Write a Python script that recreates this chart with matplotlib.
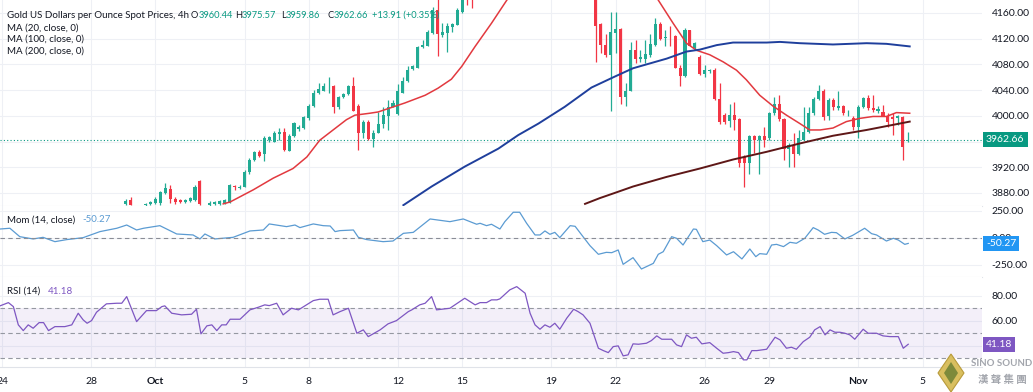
import numpy as np
import matplotlib.pyplot as plt
import matplotlib.transforms as mtransforms
from matplotlib.patches import Polygon

plt.rcParams['font.family'] = ['Lato', 'DejaVu Sans']

# 4h candles, bar numbers counted from Sep 24 00:00; None = candle not visible in the pane
first_bar = 25
opens = [3863, 3869, None, None, 3861, 3863, 3864, 3864, 3880, 3886, 3870, 3869, 3866, 3868, 3869, 3898, None,
         3862, 3863, 3863, 3865, 3865, 3891, 3888, 3890, 3912, 3932, 3943, 3941, 3962, 3960, 3972, 3975, 3946,
         3969, 3979, 3981, 3996, 4015, 4036, 4039, 4046, 4046, 4013, 4029, 4034, 4046, 4016, 3974, 3991, 3964,
         3974, 3987, 3999, 4014, 4003, 4036, 4054, 4073, 4075, 4107, 4109, 4129, 4165, 4126, 4129, 4138, 4142,
         4162, 4200, 4195] + [None] * 24 + [
         4200, 4143, 4110, 4095, 4129, 4135, 4030, 4039, 4102, 4088, 4089, 4095, 4110, 4143, 4121, 4123, 4124,
         4075, 4062, 4133, 4105, 4092, 4065, 4069, 4071, 4026, 4001, 3992, 4001, 3995, 3936, 3926, 3968, 3962,
         3968, 3965, 4004, 4018, 3995, 3948, 3955, 3941, 3963, 3975, 4004, 4026, 4039, 4000, 4025, 4012, 4015,
         4004, 3996, 3983, 4013, 4027, 4012, 4008, 4006, 4000, 3998, 3996, 3998, 3960.44]
highs = [3870, 3873, None, None, 3864, 3868, 3874, 3883, 3896, 3892, 3874, 3871, 3871, 3874, 3893, 3900, None,
         3867, 3868, 3869, 3870, 3894, 3892, 3892, 3916, 3934, 3946, 3947, 3968, 3969, 3977, 3981, 3981, 3971,
         3991, 3986, 4000, 4018, 4040, 4051, 4051, 4060, 4048, 4031, 4036, 4048, 4060, 4018, 3993, 3993, 3978,
         4006, 4014, 4025, 4025, 4049, 4061, 4077, 4079, 4109, 4118, 4134, 4170, 4185, 4145, 4144, 4145, 4167,
         4190, 4212, 4205] + [None] * 24 + [
         4215, 4145, 4128, 4162, 4162, 4136, 4051, 4115, 4118, 4102, 4118, 4128, 4152, 4146, 4134, 4139, 4126,
         4079, 4136, 4134, 4115, 4095, 4079, 4073, 4074, 4051, 4004, 4019, 4022, 3996, 3939, 3970, 3970, 3970,
         3983, 4006, 4030, 4032, 3996, 3957, 3973, 3978, 4014, 4014, 4030, 4048, 4041, 4027, 4027, 4038, 4017,
         4009, 3999, 4017, 4030, 4032, 4032, 4015, 4017, 4004, 4004, 4001, 3999, 3975.57]
lows = [3861, 3861, None, None, 3860, 3862, 3863, 3862, 3879, 3864, 3863, 3864, 3864, 3866, 3867, 3861, None,
        3860, 3862, 3861, 3863, 3864, 3885, 3886, 3889, 3910, 3930, 3936, 3930, 3960, 3959, 3962, 3946, 3945,
        3967, 3977, 3979, 3994, 4014, 4034, 4038, 4035, 4005, 4011, 4027, 4032, 4007, 3947, 3965, 3962, 3952,
        3973, 3981, 3978, 4013, 4001, 4035, 4053, 4072, 4074, 4106, 4108, 4128, 4093, 4123, 4100, 4131, 4141,
        4160, 4172, 4167] + [None] * 24 + [
        4084, 4097, 4092, 4008, 4097, 4019, 4015, 4038, 4082, 4084, 4082, 4092, 4108, 4118, 4108, 4108, 4074,
        4046, 4061, 4108, 4102, 4063, 4061, 4067, 4025, 3988, 3988, 3983, 3978, 3921, 3890, 3910, 3942, 3910,
        3952, 3962, 4001, 3992, 3931, 3921, 3921, 3939, 3962, 3973, 4001, 4025, 3993, 3993, 4009, 4009, 4001,
        4000, 3978, 3965, 4012, 4009, 4006, 4004, 3999, 3983, 3970, 3986, 3932, 3959.86]
closes = [3867, 3862, None, None, 3863, 3866, 3870, 3881, 3887, 3870, 3866, 3866, 3869, 3872, 3890, 3863, None,
          3865, 3866, 3867, 3869, 3893, 3889, 3890, 3912, 3931, 3944, 3938, 3965, 3967, 3973, 3975, 3947, 3969,
          3989, 3983, 3998, 4016, 4035, 4041, 4046, 4047, 4013, 4029, 4034, 4046, 4008, 3974, 3991, 3964, 3974,
          3988, 4001, 4014, 4020, 4038, 4054, 4072, 4077, 4107, 4110, 4130, 4165, 4128, 4131, 4139, 4143, 4164,
          4185, 4190, 4186] + [None] * 24 + [
          4140, 4110, 4095, 4130, 4135, 4030, 4039, 4103, 4088, 4092, 4096, 4112, 4143, 4119, 4123, 4122, 4075,
          4062, 4133, 4109, 4114, 4065, 4072, 4071, 4026, 3991, 3991, 4001, 3993, 3926, 3926, 3968, 3962, 3968,
          3962, 4004, 4018, 3995, 3948, 3955, 3941, 3965, 3975, 4004, 4026, 4039, 3998, 4025, 4013, 4015, 4004,
          4004, 3983, 4014, 4027, 4012, 4009, 4010, 4000, 3991, 3995, 3999, 3951, 3962.66]

# moving averages (bar, price); None breaks the line where it leaves the pane
ma20_bars = [44.7, 46.1, 50.8, 54.8, 58.8, 61.6, 64.2, 66.9, 69.6, 71.3, 74.3, 76.0, 78.7, 81.4, 85.5, 88.1,
             90.8, 92.9, 95.6, 98.9, 102.0, 104.0, 120.0,
             132.6, 135.6, 138.3, 140.3, 143.0, 145.7, 148.4, 150.4, 153.1, 155.8, 158.5, 161.2, 163.2, 165.3,
             167.9, 170.6, 173.3, 176.0, 178.7, 180.7, 183.4]
ma20_vals = [3863, 3866, 3885, 3903, 3918, 3936, 3962, 3978, 3994, 4001, 4004, 4006, 4013, 4020, 4032, 4043,
             4057, 4077, 4108, 4144, 4180, 4200, None,
             4180, 4144, 4113, 4102, 4095, 4084, 4071, 4056, 4032, 4015, 4001, 3988, 3978, 3978,
             3981, 3991, 3996, 3999, 3999, 4005, 4004]
ma100_bars = [81.1, 86.8, 93.5, 100.3, 104.3, 108.4, 113.7, 119.1, 123.8, 127.5, 134.3, 138.3, 141.0, 144.4,
              147.7, 154.5, 157.2, 161.2, 167.9, 174.7, 178.7, 183.4]
ma100_vals = [3861, 3890, 3921, 3949, 3970, 3988, 4014, 4044, 4061, 4074, 4089, 4100, 4103, 4110,
              4114, 4114, 4115, 4113, 4111, 4113, 4112, 4108]
ma200_bars = [117.8, 120.8, 123.8, 127.5, 134.3, 141.0, 147.7, 154.5, 161.2, 167.9, 174.7, 183.4]
ma200_vals = [3863, 3872, 3880, 3890, 3905, 3918, 3932, 3944, 3957, 3969, 3978, 3991]

mom_bars = [-0.4, 1.6, 3.6, 6.3, 8.3, 10.7, 13.1, 16.4, 19.8, 23.2, 25.2, 27.2, 28.6, 31.9, 35.3, 38.6, 40.0,
            41.0, 43.0, 46.7, 50.1, 52.8, 54.0, 57.5, 59.2, 60.2, 62.9, 64.9, 66.3, 67.3, 68.3, 71.0, 72.0, 73.7,
            77.0, 79.0, 81.1, 83.1, 86.5, 90.5, 93.2, 95.9, 96.6, 97.9, 98.9, 100.6, 101.6, 103.3, 104.6, 106.0,
            107.7, 108.7, 109.7, 110.7, 111.7, 112.7, 114.8, 115.8, 117.4, 118.8, 120.5, 122.1, 123.2, 124.5,
            125.5, 127.5, 129.2, 131.6, 132.6, 133.6, 135.3, 136.3, 137.6, 139.7, 140.3, 141.6, 143.0, 144.4,
            146.4, 147.8, 149.5, 151.1, 152.3, 153.1, 154.5, 155.5, 156.5, 157.9, 159.2, 160.5, 162.2, 163.9,
            164.9, 166.2, 167.6, 168.6, 170.3, 171.9, 174.3, 175.7, 176.7, 178.7, 180.1, 181.1, 182.4, 183.1]
mom_vals = [83, 90, 12, -9, 6, -34, -15, 3, 59, 90, 120, 74, 90, 114, 37, 28, -9,
            37, -9, 6, 65, 74, 130, 105, 120, 96, 130, 114, 111, 59, 68, 74, 6, -15,
            -34, -28, 43, 52, 176, 151, 176, 127, 136, 114, 127, 83, 151, 238, 238, 136,
            28, 28, 65, 34, 52, 3, 114, 108, 12, -71, -151, -133, -136, -111,
            -244, -182, -287, -235, -151, -127, 12, -3, -65, 83, 80, -34, -19, -71,
            -157, -127, -194, -102, -173, -145, -151, -65, -59, -80, -40, -49, -3, 96,
            74, 34, 52, 49, -9, 25, 90, 40, 28, -28, -3, -19, -59, -50.27]

rsi_bars = [-0.4, 1.3, 2.3, 3.3, 4.3, 5.3, 6.3, 7.5, 8.4, 9.4, 10.7, 12.7, 14.1, 15.4, 16.4, 17.2, 18.1, 19.1,
            21.1, 23.2, 24.2, 25.2, 27.2, 29.2, 31.2, 32.3, 32.9, 34.3, 36.3, 38.3, 39.3, 40.2, 41.4, 42.4, 43.4,
            44.4, 45.3, 46.1, 48.1, 50.1, 51.8, 53.1, 54.0, 55.5, 56.8, 58.5, 59.9, 62.9, 64.2, 65.9, 66.9, 68.3,
            70.0, 71.7, 73.0, 74.0, 76.4, 78.0, 79.7, 82.1, 82.8, 84.4, 85.5, 86.8, 87.8, 90.5, 93.5, 95.6, 96.6,
            97.9, 98.9, 100.0, 100.6, 102.6, 104.0, 105.7, 106.7, 107.7, 108.7, 109.7, 110.7, 111.7, 112.7, 114.1,
            115.5, 116.4, 117.4, 118.8, 120.5, 121.5, 122.5, 123.5, 124.5, 125.5, 126.5, 127.5, 128.6, 130.2,
            131.2, 132.3, 133.3, 134.3, 135.3, 136.3, 137.3, 138.3, 139.3, 140.3, 141.4, 143.0, 144.4, 145.7,
            146.8, 147.8, 148.8, 149.8, 150.5, 151.5, 152.5, 154.5, 156.2, 157.2, 158.5, 159.5, 160.5, 161.9,
            163.2, 164.2, 165.3, 166.3, 167.3, 168.3, 169.3, 170.3, 171.3, 172.3, 174.0, 175.0, 176.7, 178.0,
            179.4, 181.1, 182.1, 183.1]
rsi_vals = [71.9, 74.5, 71.3, 56.7, 52.1, 56.7, 54.0, 58.5, 58.5, 52.1, 55.3, 55.3, 56.7, 66.0, 60.7, 58.0, 60.1,
            66.8, 73.5, 74.0, 74.0, 79.3, 59.3, 68.1, 68.1, 71.3, 71.9, 66.0, 64.7, 65.2, 69.2, 49.5, 55.9, 56.7,
            52.1, 56.7, 56.7, 61.2, 61.2, 68.7, 70.8, 72.7, 72.1, 74.0, 64.7, 70.0, 68.7, 76.1, 77.2, 77.2, 64.7,
            67.3, 70.0, 50.0, 52.7, 47.3, 52.7, 57.5, 60.1, 67.3, 68.7, 72.7, 74.0, 79.3, 68.7, 70.0, 78.0, 72.7,
            74.5, 74.5, 76.7, 76.7, 77.5, 84.7, 87.3, 82.0, 66.0, 56.7, 53.2, 56.7, 54.8, 58.0, 53.2, 62.0, 69.2,
            67.3, 64.7, 58.0, 38.0, 36.1, 34.5, 39.3, 39.9, 31.9, 32.7, 41.5, 41.2, 42.0, 44.1, 47.9, 45.2, 45.2,
            45.2, 40.7, 39.3, 48.7, 46.0, 46.8, 41.5, 42.5, 38.0, 34.0, 34.5, 35.3, 34.5, 28.7, 28.7, 36.1, 36.1,
            37.2, 46.8, 44.7, 38.0, 38.8, 37.2, 43.3, 46.8, 52.7, 55.3, 48.7, 52.7, 50.8, 50.8, 50.0, 48.7, 45.2,
            53.2, 50.0, 50.0, 47.9, 47.3, 47.3, 38.0, 41.18]

tick_bars = [0, 18, 31, 49, 62, 80, 93, 111, 124, 142, 155, 173, 186]
tick_labels = ['24', '28', 'Oct', '5', '8', '12', '15', '19', '22', '26', '29', 'Nov', '5']

last_open, last_high, last_low, last_close = 3960.44, 3975.57, 3959.86, 3962.66
change, change_pct = 13.91, 0.35
last_mom = -50.27
last_rsi = 41.18

TXT = '#131722'
GRID = '#eef0f5'
TEAL = '#089981'
UP, DOWN = '#22ab94', '#f23645'
W, H = 1033, 392

fig = plt.figure(figsize=(10.33, 3.92), dpi=100)
ax = fig.add_axes([0, 0.4745, 0.9506, 0.5255])
axm = fig.add_axes([0, 0.2934, 0.9506, 0.1811], sharex=ax)
axr = fig.add_axes([0, 0.0638, 0.9506, 0.2296], sharex=ax)

# candles
o = np.array(opens, dtype=float)
h = np.array(highs, dtype=float)
l = np.array(lows, dtype=float)
c = np.array(closes, dtype=float)
bars = np.arange(first_bar, first_bar + len(o))
ok = ~np.isnan(o)
cols = np.where(c >= o, UP, DOWN)[ok]
ax.vlines(bars[ok], l[ok], h[ok], colors=cols, linewidth=0.9, zorder=3)
ax.bar(bars[ok], np.maximum(np.abs(c - o)[ok], 0.9), bottom=np.minimum(o, c)[ok], width=0.62,
       color=cols, linewidth=0, zorder=4)

# moving averages
ax.plot(ma20_bars, np.array(ma20_vals, dtype=float), color='#e2393f', lw=1.1, zorder=5)
ax.plot(ma100_bars, ma100_vals, color='#1f3f9c', lw=1.4, zorder=5)
ax.plot(ma200_bars, ma200_vals, color='#5e1717', lw=1.4, zorder=5)

ax.axhline(last_close, color=TEAL, lw=0.8, ls=(0, (1, 2)), zorder=2)
ax.set_ylim(3859.7, 4180.2)
ax.set_yticks(np.arange(3880, 4161, 40))
ax.set_yticklabels(['' if v == 3960 else f'{v:.2f}' for v in np.arange(3880, 4161, 40)])

# momentum
axm.plot(mom_bars, mom_vals, color='#5b9bd2', lw=0.9)
axm.axhline(0, color='#8a8d96', lw=0.8, ls=(0, (4, 3)))
axm.set_ylim(-361, 296)
axm.set_yticks([-250, 0, 250])
axm.set_yticklabels(['-250.00', '0.00', '250.00'])

# RSI
axr.axhspan(30, 70, color='#7e57c2', alpha=0.09, lw=0)
for lvl in (70, 50, 30):
    axr.axhline(lvl, color='#9598a1', lw=0.8, ls=(0, (4, 3)))
axr.plot(rsi_bars, rsi_vals, color='#7e57c2', lw=0.9)
axr.set_ylim(23, 95)
axr.set_yticks([40, 60, 80])
axr.set_yticklabels(['', '60.00', '80.00'])

for a in (ax, axm, axr):
    a.set_facecolor('white')
    a.yaxis.tick_right()
    a.tick_params(axis='y', length=0, pad=7, labelsize=7.5, labelcolor=TXT)
    a.tick_params(axis='x', length=0)
    a.set_xticks(tick_bars)
    a.grid(True, color=GRID, lw=0.8)
    a.set_axisbelow(True)
    for s in a.spines.values():
        s.set_visible(False)
    a.spines['bottom'].set_visible(True)
    a.spines['bottom'].set_color('#e0e3e9')
ax.tick_params(axis='x', labelbottom=False)
axm.tick_params(axis='x', labelbottom=False)
axr.set_xticklabels(tick_labels)
axr.tick_params(axis='x', labelsize=7.5, labelcolor=TXT, pad=7)
for lab in axr.get_xticklabels():
    if lab.get_text() in ('Oct', 'Nov'):
        lab.set_fontweight('bold')
ax.set_xlim(-0.4, 198)

# value tags on the price scale
def tag(a, v, txt, fc):
    tr = mtransforms.blended_transform_factory(a.transAxes, a.transData)
    a.text(1.004, v, txt, transform=tr, ha='left', va='center', fontsize=7.5, color='white',
           bbox=dict(boxstyle='square,pad=0.3', fc=fc, ec='none'), clip_on=False, zorder=10)

tag(ax, last_close, f'{last_close:.2f}', TEAL)
tag(axm, last_mom, f'{last_mom:.2f}', '#2196f3')
tag(axr, last_rsi, f'{last_rsi:.2f}', '#7e57c2')

# legend pieces at pixel positions (x from left, y from top); later pieces follow the previous one
def seq(x, y, parts, size=7.0):
    t = fig.text(x / W, 1 - y / H, parts[0][0], color=parts[0][1], fontsize=size, va='center', ha='left')
    for s, col in parts[1:]:
        t = fig.add_artist(plt.Annotation(s, xy=(1, 0), xycoords=t, color=col, fontsize=size,
                                          va='bottom', ha='left'))
    return t

y1 = 15
seq(7, y1, [('Gold US Dollars per Ounce Spot Prices, 4h', TXT)])
seq(191, y1, [('O', TXT), (f'{last_open:.2f}', TEAL)], size=6.7)
seq(235, y1, [('H', TXT), (f'{last_high:.2f}', TEAL)], size=6.7)
seq(281, y1, [('L', TXT), (f'{last_low:.2f}', TEAL)], size=6.7)
seq(327, y1, [('C', TXT), (f'{last_close:.2f}', TEAL)], size=6.7)
seq(372, y1, [(f'+{change:.2f} (+{change_pct:.2f}%)', TEAL)], size=6.7)
for i, s in enumerate(['MA (20, close, 0)', 'MA (100, close, 0)', 'MA (200, close, 0)']):
    seq(7, 28 + 11.5 * i, [(s, TXT)])
seq(7, 220, [('Mom (14, close)', TXT)])
seq(82, 220, [(f'{last_mom:.2f}', '#5b9bd2')])
seq(7, 291, [('RSI (14)', TXT)])
seq(48, 291, [(f'{last_rsi:.2f}', '#7e57c2')])

# watermark logo
def px(x, y):
    return (x / W, 1 - y / H)

fig.add_artist(Polygon([px(951, 354), px(964, 373), px(951, 392), px(938, 373)], closed=True,
                       transform=fig.transFigure, fc='#d9bf5f', ec='#b89a3a', lw=0.8))
fig.add_artist(Polygon([px(951, 362), px(958, 373), px(951, 384), px(944, 373)], closed=True,
                       transform=fig.transFigure, fc='#7d8a3a', ec='none'))
fig.text(1002 / W, 1 - 364 / H, 'SINO SOUND', fontsize=7, fontweight='bold', color='#a3a6ad',
         ha='center', va='center')
fig.text(1002 / W, 1 - 380 / H, '漢 聲 集 團', fontsize=7.5, fontweight='bold', color='#a3a6ad',
         ha='center', va='center', family=['Noto Sans CJK TC', 'DejaVu Sans'])

fig.savefig('out.png', dpi=100, facecolor='white')
